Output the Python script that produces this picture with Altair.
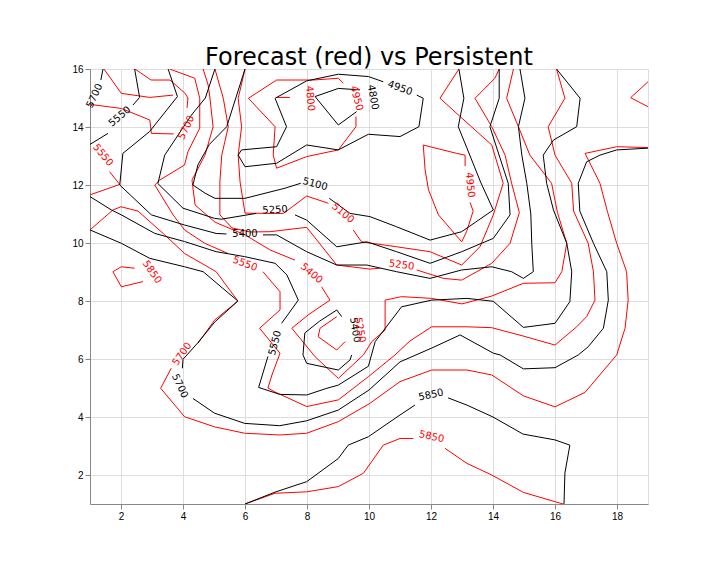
import altair as alt
import pandas as pd

# ---------------- contour polylines (data units) -------------
# Persistent field (black)
b5700_corner_a = [(1.42, 16.0), (1.35, 15.62)]
b5700_corner_b = [(1.05, 14.75), (1.0, 14.68)]
b5550_corner_a = [(2.44, 16.0), (2.6, 15.02), (2.39, 14.76)]
b5550_corner_b = [(1.58, 13.78), (1.0, 13.4)]
b5400_a = [(3.52, 16.0), (3.82, 15.05), (2.92, 13.84), (2.06, 13.09), (1.96, 12.0), (2.98, 10.97),
           (4.05, 10.62), (5.07, 10.33), (5.4, 10.31)]
b5400_b = [(6.58, 10.28), (7.02, 10.28), (7.99, 9.70), (8.96, 9.24), (9.93, 9.24), (10.89, 9.01),
           (11.97, 8.78), (12.99, 9.07), (13.96, 9.18), (14.6, 9.01), (14.98, 8.78), (15.3, 9.01),
           (15.25, 9.99), (15.22, 11.0), (15.09, 12.06), (14.93, 13.03), (14.82, 14.01), (15.03, 14.99),
           (14.87, 16.0)]
b5250_a = [(5.03, 16.0), (4.72, 15.0), (4.27, 14.41), (3.41, 13.03), (3.19, 12.05), (4.0, 11.2),
           (5.02, 10.85), (5.23, 10.82), (6.36, 11.02)]
b5250_b = [(7.61, 10.97), (7.99, 10.79), (8.96, 9.87), (9.93, 10.04), (10.89, 9.70), (11.97, 9.30),
           (12.99, 9.70), (14.01, 10.16), (14.55, 10.97), (14.49, 12.06), (13.9, 14.01), (14.2, 14.99),
           (14.2, 16.0)]
b5100_a = [(6.0, 16.0), (5.41, 14.01), (4.85, 13.4), (4.48, 12.69), (4.32, 12.0), (4.71, 11.72),
           (5.03, 11.54), (6.0, 11.54), (7.29, 11.89), (7.8, 12.06)]
b5100_b = [(8.72, 11.54), (9.39, 11.02), (10.03, 10.91), (10.89, 10.56), (11.97, 10.1), (12.99, 10.39),
           (14.01, 11.14), (13.6, 12.1), (13.16, 13.27), (12.88, 14.01), (13.06, 14.99), (12.9, 16.0)]
b4950 = [(11.54, 15.1), (11.75, 14.99), (11.61, 14.01), (11.0, 13.67), (9.98, 13.75), (9.01, 13.21),
         (7.99, 13.38), (7.02, 12.75), (6.0, 12.63), (5.78, 13.03), (5.89, 13.21), (7.02, 13.32),
         (7.34, 14.01), (6.97, 14.99), (7.99, 15.59), (9.01, 15.82), (9.98, 15.74), (10.46, 15.56)]
b4800 = [(9.71, 15.28), (9.01, 15.33), (8.26, 15.05), (9.01, 14.07), (9.6, 14.53)]
b5550_a = [(1.0, 11.6), (1.69, 11.14), (2.01, 10.97), (3.09, 10.33), (4.05, 10.05), (5.07, 9.70),
           (5.99, 9.53), (6.97, 9.3), (7.35, 8.9), (7.72, 8.03), (7.18, 7.23)]
b5550_b = [(6.74, 6.09), (6.44, 5.02), (7.12, 4.78), (7.99, 4.76), (8.64, 4.99), (9.01, 5.1), (9.98, 5.75),
           (10.2, 6.6), (11.05, 7.8), (12.02, 8.03), (13.16, 8.09), (14.01, 7.99), (14.98, 7.09), (16.0, 7.23),
           (16.48, 7.98), (16.54, 9.01), (16.38, 9.99), (15.95, 11.14), (15.73, 12.06), (15.62, 13.03),
           (15.95, 13.55), (16.7, 14.01), (16.81, 14.99), (16.05, 16.0)]
b5400_loop = [(9.12, 7.46), (8.96, 7.69), (8.4, 7.3), (7.93, 6.9), (7.87, 6.14), (7.99, 5.85), (9.01, 5.62),
              (9.39, 5.97), (9.44, 6.14)]
b5700_a = [(1.0, 10.45), (2.01, 9.99), (2.93, 9.47), (4.05, 9.18), (4.65, 9.01), (5.77, 8.0), (5.02, 7.27),
           (4.48, 6.56), (4.0, 5.99), (3.98, 5.68)]
b5700_b = [(4.32, 4.64), (5.02, 4.13), (5.99, 3.78), (7.12, 3.7), (7.99, 3.87), (9.01, 4.24), (10.0, 4.93),
           (11.0, 5.9), (12.03, 6.38), (12.94, 6.83), (14.01, 6.2), (14.23, 6.14), (14.98, 5.66), (16.0, 5.7),
           (16.75, 6.14), (17.07, 6.42), (17.56, 7.06), (17.72, 8.03), (17.67, 9.01), (17.24, 9.99),
           (16.8, 11.1), (16.75, 12.06), (17.02, 12.8), (17.45, 13.03), (17.99, 13.21), (19.0, 13.27)]
b5850_a = [(6.0, 1.0), (6.97, 1.41), (7.99, 1.77), (9.01, 2.57), (9.33, 3.03), (9.98, 3.32), (11.0, 4.07),
           (11.48, 4.41)]
b5850_b = [(12.55, 4.66), (13.16, 4.41), (14.0, 4.0), (14.97, 3.41), (16.0, 3.21), (16.48, 3.03),
           (16.32, 2.07), (16.29, 1.0)]

# Forecast field (red)
r4800 = [(7.02, 15.02), (7.45, 15.02)]
r4950_a = [(9.17, 15.51), (9.01, 15.68), (8.2, 15.62), (7.02, 15.62), (6.11, 14.99), (6.97, 14.01),
           (6.91, 13.03), (7.02, 12.58), (7.99, 12.98), (9.01, 13.21), (9.58, 14.01), (9.58, 14.36)]
r4950_b = [(13.26, 11.4), (13.36, 11.1), (13.15, 10.4), (12.99, 10.04), (12.24, 10.97), (11.92, 11.83),
           (11.81, 12.52), (11.75, 13.38), (11.97, 13.32), (12.83, 13.09), (13.1, 13.03), (13.1, 12.65)]
r5100_a = [(6.0, 16.0), (5.78, 14.99), (5.89, 14.01), (5.78, 13.03), (5.84, 12.11), (6.0, 11.03),
           (6.81, 11.02), (7.24, 11.02), (7.99, 11.62), (8.69, 11.37)]
r5100_b = [(9.49, 10.45), (9.76, 10.04), (10.89, 9.87), (11.97, 9.7), (12.99, 9.24), (13.58, 9.87),
           (14.01, 10.97), (14.33, 12.06), (13.96, 13.38), (12.94, 14.36), (12.29, 14.99), (12.9, 16.0)]
r5250_a = [(5.03, 16.0), (5.3, 14.99), (5.46, 14.01), (5.25, 13.03), (5.19, 12.11), (5.19, 10.97),
           (5.58, 10.52), (6.16, 10.38), (6.81, 10.39), (7.99, 10.54), (8.96, 9.24), (10.03, 9.1),
           (10.35, 9.13)]
r5250_b = [(11.54, 9.07), (12.4, 8.78), (12.99, 8.72), (13.96, 9.3), (14.55, 9.99), (14.85, 11.05),
           (14.6, 12.06), (14.39, 13.03), (13.96, 14.01), (13.42, 14.99), (14.06, 15.68), (14.2, 16.0)]
r5250_small = [(9.23, 6.6), (8.96, 6.31), (8.36, 6.77), (8.42, 7.06), (8.96, 7.46)]
r5400_a = [(4.65, 16.0), (4.81, 15.45), (4.87, 15.0), (4.97, 14.0), (4.71, 13.03), (4.29, 12.17),
           (4.39, 11.31), (5.03, 10.72), (6.0, 10.28), (6.81, 9.76), (7.61, 9.41)]
r5400_b = [(8.47, 8.49), (8.74, 8.03), (8.04, 7.52), (7.51, 7.06), (8.26, 6.08), (9.01, 5.33), (9.82, 6.14),
           (10.09, 6.6), (10.52, 7.0), (10.52, 8.03), (11.05, 8.15), (12.02, 8.09), (13.0, 7.9), (13.96, 8.17),
           (14.98, 8.61), (16.0, 8.63), (16.22, 9.01), (16.38, 9.99), (16.08, 11.05), (15.89, 12.06),
           (15.19, 13.03), (14.82, 14.01), (14.44, 14.99), (14.66, 16.0)]
r5550_a = [(3.57, 16.0), (4.38, 15.68), (4.54, 14.99), (4.54, 13.96), (4.16, 13.15), (4.05, 12.69),
           (3.25, 12.17), (3.09, 12.0), (3.68, 10.97), (4.05, 10.45), (4.7, 9.99), (5.45, 9.64)]
r5550_b = [(6.58, 9.01), (7.13, 8.32), (7.13, 7.69), (6.47, 7.06), (6.96, 6.42), (7.13, 6.2), (6.87, 5.45),
           (6.74, 5.0), (6.97, 4.86), (7.99, 4.36), (9.01, 4.59), (9.98, 5.39), (10.84, 6.14), (11.32, 6.62),
           (12.02, 7.11), (13.16, 7.11), (13.96, 7.08), (14.98, 6.79), (16.0, 6.48), (16.7, 7.11),
           (17.02, 7.46), (17.29, 8.03), (17.24, 9.01), (17.07, 9.99), (16.6, 11.1), (16.54, 12.06),
           (16.0, 13.03), (15.78, 14.01), (16.32, 14.99), (16.05, 16.0)]
r5550_left = [(1.63, 12.46), (1.96, 12.02), (1.0, 11.66)]
r5700_top_a = [(2.45, 16.0), (2.97, 15.62), (3.58, 15.62), (4.06, 15.17), (4.16, 15.0), (4.13, 14.66)]
r5700_top_b = [(3.7, 13.76), (2.98, 13.78), (2.93, 14.24), (2.01, 14.64), (1.0, 14.78)]
r_top_hook = [(1.45, 16.0), (2.01, 15.16), (2.93, 15.02), (3.68, 15.1)]
r5850_loop = [(2.44, 9.13), (2.01, 9.18), (1.74, 9.01), (2.01, 8.49), (2.71, 8.67)]
r5700_a = [(1.0, 10.45), (1.74, 11.14), (2.0, 11.25), (2.55, 11.1), (3.41, 10.28), (4.05, 9.64),
           (5.07, 9.01), (5.77, 8.0), (5.02, 7.34), (4.48, 6.54)]
r5700_b = [(3.62, 5.68), (3.28, 4.99), (4.05, 4.01), (5.02, 3.66), (5.99, 3.44), (7.13, 3.38), (7.99, 3.44),
           (9.01, 3.84), (10.03, 4.47), (11.0, 5.22), (12.02, 5.62), (13.16, 5.62), (13.96, 5.45),
           (14.98, 4.73), (16.0, 4.35), (16.97, 4.85), (17.99, 6.14), (18.26, 7.06), (18.36, 8.03),
           (18.31, 9.01), (17.99, 9.99), (17.7, 11.05), (17.45, 12.06), (16.97, 13.09), (17.99, 13.32),
           (19.0, 13.29)]
r5850_a = [(6.0, 1.0), (6.97, 1.37), (7.99, 1.42), (9.01, 1.6), (9.82, 2.06), (10.46, 3.03), (11.0, 3.26),
           (11.43, 3.26)]
r5850_b = [(12.45, 2.92), (13.16, 2.4), (13.96, 2.0), (14.98, 1.4), (16.0, 1.08), (16.27, 1.0)]
r_right_edge = [(19.0, 15.56), (18.44, 15.01), (19.0, 14.7)]

black_lines = [b5700_corner_a, b5700_corner_b, b5550_corner_a, b5550_corner_b, b5400_a, b5400_b,
               b5250_a, b5250_b, b5100_a, b5100_b, b4950, b4800, b5550_a, b5550_b, b5400_loop,
               b5700_a, b5700_b, b5850_a, b5850_b]
red_lines = [r4800, r4950_a, r4950_b, r5100_a, r5100_b, r5250_a, r5250_b, r5250_small, r5400_a, r5400_b,
             r5550_a, r5550_b, r5550_left, r5700_top_a, r5700_top_b, r_top_hook, r5850_loop, r5700_a,
             r5700_b, r5850_a, r5850_b, r_right_edge]

# Contour labels
label_text = ["5700", "5550", "4950", "4800", "5100", "5250", "5400", "5550", "5400", "5700", "5850",
              "5550", "5700", "4800", "4950", "4950", "5100", "5250", "5400", "5550", "5850", "5700",
              "5250", "5850"]
label_x = [1.15, 1.96, 11.0, 10.13, 8.26, 6.97, 6.0, 6.97, 9.55, 3.9, 12.0,
           1.42, 4.11, 8.1, 9.6, 13.26, 9.16, 11.05, 8.15, 6.0, 3.0, 3.97, 9.71, 12.02]
label_y = [15.08, 14.36, 15.34, 15.03, 12.03, 11.14, 10.31, 6.55, 7.0, 5.07, 4.76,
           13.03, 13.98, 14.99, 14.99, 12.0, 11.03, 9.24, 8.95, 9.28, 9.0, 6.17, 7.0, 3.32]
label_angle = [295, 320, 20, 80, 15, 357, 0, 285, 80, 65, 348,
               50, 295, 85, 75, 85, 40, 8, 40, 20, 55, 305, 80, 12]
label_color = ["black"] * 11 + ["red"] * 13

x_ticks = [2, 4, 6, 8, 10, 12, 14, 16, 18]
y_ticks = [2, 4, 6, 8, 10, 12, 14, 16]

# ---------------- build tables ----------------
rows = []
for color, group in (("red", red_lines), ("black", black_lines)):
    for k, pts in enumerate(group):
        for i, (x, y) in enumerate(pts):
            rows.append({"seg": f"{color}{k}", "ord": i, "x": x, "y": y, "c": color})
lines_df = pd.DataFrame(rows)
labels_df = pd.DataFrame({"t": label_text, "x": label_x, "y": label_y, "a": label_angle, "c": label_color})

xs = alt.Scale(domain=[1, 19], nice=False, zero=False)
ys = alt.Scale(domain=[1, 16], nice=False, zero=False)
xaxis = alt.Axis(values=x_ticks, title=None, grid=True)
yaxis = alt.Axis(values=y_ticks, title=None, grid=True)

lines = alt.Chart(lines_df).mark_line(strokeWidth=1, clip=True).encode(
    x=alt.X("x:Q", scale=xs, axis=xaxis),
    y=alt.Y("y:Q", scale=ys, axis=yaxis),
    detail="seg:N",
    order="ord:Q",
    color=alt.Color("c:N", scale=None),
)

labels = alt.Chart(labels_df).mark_text(fontSize=10, font="DejaVu Sans").encode(
    x=alt.X("x:Q", scale=xs),
    y=alt.Y("y:Q", scale=ys),
    text="t:N",
    angle=alt.Angle("a:Q", scale=None),
    color=alt.Color("c:N", scale=None),
)

chart = alt.layer(lines, labels).properties(
    width=558,
    height=435,
    title=alt.TitleParams("Forecast (red) vs Persistent", fontSize=24, font="DejaVu Sans",
                          fontWeight="normal", color="black", anchor="middle", baseline="alphabetic",
                          offset=6, dy=31, frame="group"),
    padding={"left": 90, "top": 69, "right": 72, "bottom": 72},
    autosize=alt.AutoSizeParams(type="none"),
).configure_view(
    stroke="black", strokeWidth=1
).configure_axis(
    labelFont="DejaVu Sans", labelFontSize=10, labelColor="black",
    tickColor="black", tickSize=3.5, tickWidth=0.8, labelPadding=3.5,
    gridColor="#b0b0b0", gridWidth=1, domainColor="black", domainWidth=0.8,
).configure(background="white")

chart.save("out.html", embed_options={"renderer": "svg", "actions": False})
